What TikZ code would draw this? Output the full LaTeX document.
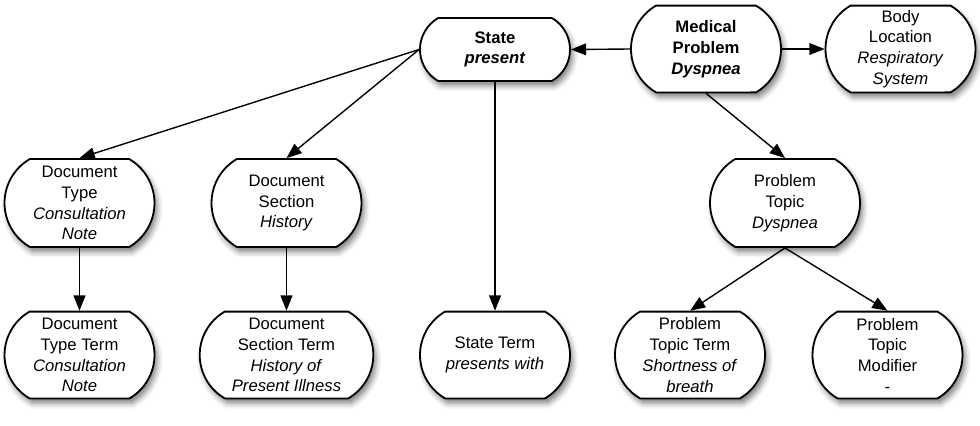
\documentclass[tikz,border=0pt]{standalone}
\usepackage{fontspec}
\setmainfont{Liberation Sans}
\usetikzlibrary{arrows.meta,shapes.misc,shadows.blur}

\tikzset{
  concept/.style={rounded rectangle, rounded rectangle arc length=120, draw, line width=1.3pt,
    fill=white, align=center, minimum width=112pt, minimum height=62.5pt, inner sep=2pt,
    font=\fontsize{12}{14.9}\selectfont,
    blur shadow={shadow xshift=2pt, shadow yshift=-3.5pt, shadow blur radius=4pt, shadow opacity=50}},
  link/.style={-{Triangle[length=11pt,width=8.5pt]}, line width=1pt}
}

\begin{document}
\begin{tikzpicture}[x=0.72pt,y=-0.72pt]

\useasboundingbox (0,0) rectangle (980,425);

% top row
\node[concept, minimum height=45.4pt] (state) at (495,49.5) {\textbf{State}\\\textbf{\textit{present}}};
\node[concept] (medprob) at (706,49) {\textbf{Medical}\\\textbf{Problem}\\\textbf{\textit{Dyspnea}}};
\node[concept] (bodyloc) at (900.5,49) {Body\\Location\\\textit{Respiratory}\\\textit{System}};

% middle row
\node[concept, minimum height=63.4pt] (doctype) at (79.5,203) {Document\\Type\\\textit{Consultation}\\\textit{Note}};
\node[concept, minimum height=63.4pt] (docsec) at (286.5,203) {Document\\Section\\\textit{History}};
\node[concept, minimum height=63.4pt] (probtopic) at (785,203) {Problem\\Topic\\\textit{Dyspnea}};

% bottom row
\node[concept] (doctypeterm) at (79.5,355) {Document\\Type Term\\\textit{Consultation}\\\textit{Note}};
\node[concept, minimum width=129pt] (docsecterm) at (286.5,355) {Document\\Section Term\\\textit{History of}\\\textit{Present Illness}};
\node[concept] (stateterm) at (495,355) {State Term\\\textit{presents with}};
\node[concept] (ptterm) at (690,355) {Problem\\Topic Term\\\textit{Shortness of}\\\textit{breath}};
\node[concept] (ptmod) at (887.5,355) {Problem\\Topic\\Modifier\\-};

% links
\draw[link] (medprob.west) -- (state.east);
\draw[link] (medprob.east) -- (bodyloc.west);
\draw[link] (state.west) -- (doctype.north);
\draw[link] (state.west) -- (docsec.north);
\draw[link] (state.south) -- (stateterm.north);
\draw[link] (medprob.south) -- (probtopic.north);
\draw[link] (probtopic.south) -- (ptterm.north);
\draw[link] (probtopic.south) -- (ptmod.north);
\draw[link] (doctype.south) -- (doctypeterm.north);
\draw[link] (docsec.south) -- (docsecterm.north);

\end{tikzpicture}
\end{document}
